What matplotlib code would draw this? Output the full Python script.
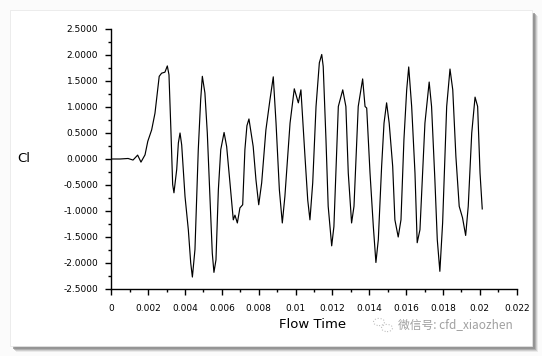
import matplotlib
matplotlib.use("Agg")
import matplotlib.pyplot as plt
from matplotlib.patches import Rectangle, Circle
from matplotlib.ticker import MultipleLocator, FuncFormatter
import numpy as np

# Flow time (ms) and lift coefficient Cl
time_ms = [0.00, 0.47, 0.91, 1.18, 1.43, 1.61, 1.83, 1.98, 2.19, 2.37,
           2.60, 2.73, 2.91, 3.04, 3.13, 3.24, 3.33, 3.40, 3.55, 3.64,
           3.73, 3.82, 4.00, 4.18, 4.31, 4.40, 4.54, 4.72, 4.85, 4.94,
           5.08, 5.21, 5.36, 5.48, 5.57, 5.68, 5.81, 5.94, 6.12, 6.26,
           6.44, 6.62, 6.71, 6.84, 6.98, 7.13, 7.25, 7.36, 7.47, 7.70,
           7.85, 8.00, 8.16, 8.39, 8.61, 8.79, 8.94, 9.12, 9.28, 9.42,
           9.70, 9.93, 10.15, 10.29, 10.51, 10.66, 10.78, 10.93, 11.11, 11.29,
           11.42, 11.50, 11.65, 11.77, 11.96, 12.08, 12.32, 12.56, 12.73, 12.86,
           13.04, 13.17, 13.40, 13.64, 13.77, 13.86, 14.04, 14.22, 14.36, 14.49,
           14.67, 14.80, 14.94, 15.08, 15.27, 15.39, 15.57, 15.72, 15.88, 16.03,
           16.14, 16.30, 16.48, 16.60, 16.75, 17.02, 17.25, 17.38, 17.56, 17.69,
           17.83, 17.98, 18.20, 18.38, 18.53, 18.70, 18.88, 19.06, 19.23, 19.37,
           19.56, 19.74, 19.88, 20.01, 20.13]
cl = [0.00, 0.00, 0.01, -0.02, 0.075, -0.06, 0.08, 0.34, 0.56, 0.88,
      1.59, 1.65, 1.67, 1.79, 1.62, 0.50, -0.49, -0.65, -0.20, 0.31,
      0.50, 0.27, -0.72, -1.36, -2.00, -2.27, -1.74, 0.18, 1.14, 1.59,
      1.27, 0.50, -0.79, -1.81, -2.18, -1.94, -0.59, 0.18, 0.51, 0.24,
      -0.46, -1.17, -1.08, -1.23, -0.94, -0.88, 0.18, 0.64, 0.77, 0.24,
      -0.40, -0.88, -0.46, 0.56, 1.14, 1.58, 0.69, -0.59, -1.23, -0.72,
      0.69, 1.35, 1.08, 1.33, 0.05, -0.79, -1.17, -0.46, 1.01, 1.85,
      2.01, 1.78, 0.37, -0.91, -1.67, -1.30, 1.01, 1.33, 1.01, -0.27,
      -1.23, -0.91, 1.01, 1.54, 1.01, 0.98, -0.27, -1.30, -1.99, -1.55,
      -0.14, 0.69, 1.08, 0.69, -0.14, -1.17, -1.50, -1.17, 0.37, 1.33,
      1.77, 1.01, -0.27, -1.61, -1.36, 0.69, 1.48, 1.01, -0.40, -1.55,
      -2.16, -1.23, 1.01, 1.73, 1.33, 0.05, -0.91, -1.13, -1.47, -0.91,
      0.50, 1.19, 1.01, -0.27, -0.96]
flow_time = [t / 1000.0 for t in time_ms]

W, H = 542, 356
fig = plt.figure(figsize=(W / 100, H / 100), dpi=100)
fig.patch.set_facecolor("#fbfbfb")

def fx(px):
    return px / W

def fy(py):
    return 1 - py / H

# shadow + white panel
for off, col, a in [(6, "#c8c8c8", 0.35), (5, "#b0b0b0", 0.45), (4, "#9a9a9a", 0.6), (3, "#8a8a8a", 0.7)]:
    fig.patches.append(Rectangle((fx(10 + off), fy(346 + off)), fx(522), 336 / H,
                                 transform=fig.transFigure, facecolor=col,
                                 edgecolor="none", alpha=a, zorder=0))
fig.patches.append(Rectangle((fx(10), fy(346)), fx(522), 336 / H,
                             transform=fig.transFigure, facecolor="white",
                             edgecolor="#e6e6e6", linewidth=0.5, zorder=1))

ax = fig.add_axes([fx(111.3), fy(289), fx(516.7 - 111.3), (289 - 29) / H])
ax.set_zorder(5)
ax.set_facecolor("none")
ax.plot(flow_time, cl, color="black", linewidth=0.85)

ax.set_xlim(0, 0.022)
ax.set_ylim(-2.5, 2.5)
for s in ["top", "right"]:
    ax.spines[s].set_visible(False)
for s in ["left", "bottom"]:
    ax.spines[s].set_linewidth(1.0)

ax.xaxis.set_minor_locator(MultipleLocator(0.001))
ax.yaxis.set_major_locator(MultipleLocator(0.5))
ax.yaxis.set_minor_locator(MultipleLocator(0.25))

xlabels = ["0", "0.002", "0.004", "0.006", "0.008", "0.01", "0.012",
           "0.014", "0.016", "0.018", "0.02", "0.022"]
ax.set_xticks([i * 0.002 for i in range(12)])
ax.set_xticklabels(xlabels)
ax.yaxis.set_major_formatter(FuncFormatter(lambda v, p: f"{v:.4f}"))

ax.tick_params(which="major", direction="out", length=4.5, width=1.0,
               labelsize=6.5, pad=5)
ax.tick_params(which="minor", direction="out", length=2.5, width=1.0)
ax.tick_params(axis="x", pad=6)

fig.text(fx(24), fy(159), "Cl", fontsize=9.5, ha="center", va="center", zorder=6)
fig.text(fx(313), fy(325), "Flow Time", fontsize=9.5, ha="center", va="center", zorder=6)

# watermark
fig.text(fx(398), fy(325), "微信号: cfd_xiaozhen", fontsize=8.5, color="#a0a0a0",
         ha="left", va="center", family=["Noto Sans CJK SC", "DejaVu Sans"], zorder=6)
fig.patches.append(Circle((fx(379), fy(322)), 5.5 / W, transform=fig.transFigure,
                          facecolor="none", edgecolor="#c0c0c0", linewidth=0.8,
                          linestyle=":", zorder=3))
fig.patches.append(Circle((fx(387), fy(328)), 5.5 / W, transform=fig.transFigure,
                          facecolor="none", edgecolor="#c0c0c0", linewidth=0.8,
                          linestyle=":", zorder=3))

fig.savefig("out.png", dpi=100, facecolor=fig.get_facecolor())
